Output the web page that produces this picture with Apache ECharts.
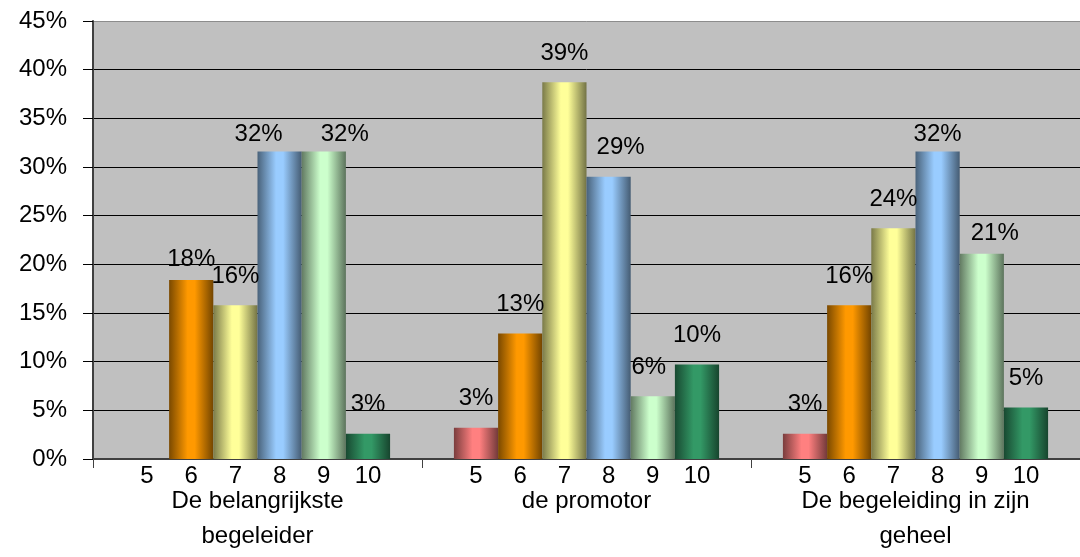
<!DOCTYPE html>
<html>
<head>
<meta charset="utf-8">
<script src="https://cdn.jsdelivr.net/npm/echarts@6/dist/echarts.min.js"></script>
<style>
html,body{margin:0;padding:0;background:#fff;}
#chart{width:1080px;height:557px;}
</style>
</head>
<body>
<div id="chart"></div>
<script>
// ---- data ----
var groups = ['De belangrijkste\nbegeleider', 'de promotor', 'De begeleiding in zijn\ngeheel'];
var scores = ['5', '6', '7', '8', '9', '10'];
var score5  = [0.0, 3.2, 2.6];
var score6  = [18.4, 12.9, 15.8];
var score7  = [15.8, 38.7, 23.7];
var score8  = [31.6, 29.0, 31.6];
var score9  = [31.6, 6.45, 21.1];
var score10 = [2.6, 9.7, 5.3];
var yTicks = [0, 5, 10, 15, 20, 25, 30, 35, 40, 45];

var seriesValues = [score5, score6, score7, score8, score9, score10];
var baseColors = ['#ff8080', '#ff9900', '#ffff99', '#99ccff', '#ccffcc', '#339966'];

// manual label nudges (as in the original chart), keyed "series-group"
var labelNudges = {
  '1-0': [0, 8],
  '3-0': [-21, 12],
  '4-0': [21, 12],
  '3-1': [12, 0],
  '4-1': [-4, 0],
  '3-2': [0, 12],
  '4-2': [13, 9]
};

function shade(hex, f) {
  var r = parseInt(hex.substr(1, 2), 16), g = parseInt(hex.substr(3, 2), 16), b = parseInt(hex.substr(5, 2), 16);
  return 'rgb(' + Math.round(r * f) + ',' + Math.round(g * f) + ',' + Math.round(b * f) + ')';
}
function grad(hex) {
  return new echarts.graphic.LinearGradient(0, 0, 1, 0, [
    { offset: 0, color: shade(hex, 0.48) },
    { offset: 0.42, color: hex },
    { offset: 0.58, color: hex },
    { offset: 1, color: shade(hex, 0.45) }
  ]);
}

var FONT = 'Liberation Sans';
var FS = 24;
var series = [];
var catGap = '19.4%';

seriesValues.forEach(function (vals, si) {
  series.push({
    type: 'bar',
    name: scores[si],
    xAxisIndex: 0,
    barGap: '0%',
    barCategoryGap: catGap,
    itemStyle: { color: grad(baseColors[si]) },
    label: {
      show: true,
      position: 'top',
      distance: 17,
      color: '#000',
      fontFamily: FONT,
      fontSize: FS,
      formatter: function (p) { return p.value > 0 ? Math.round(p.value) + '%' : ''; }
    },
    data: vals.map(function (v, gi) {
      var n = labelNudges[si + '-' + gi];
      var item = { value: v };
      if (n) item.label = { offset: n };
      return item;
    })
  });
});

// score labels under each bar (invisible carriers on a hidden twin axis)
seriesValues.forEach(function (vals, si) {
  series.push({
    type: 'bar',
    name: scores[si] + ' label',
    xAxisIndex: 1,
    barGap: '0%',
    barCategoryGap: catGap,
    silent: true,
    itemStyle: { color: 'rgba(0,0,0,0)' },
    label: {
      show: true,
      position: 'bottom',
      distance: 5,
      color: '#000',
      fontFamily: FONT,
      fontSize: FS,
      formatter: function () { return scores[si]; }
    },
    data: vals.slice()
  });
});

var chart = echarts.init(document.getElementById('chart'), null, { renderer: 'canvas' });
chart.setOption({
  animation: false,
  backgroundColor: '#ffffff',
  grid: { left: 93, right: -3, top: 21, bottom: 98, containLabel: false, show: true, backgroundColor: '#c0c0c0', borderWidth: 0 },
  xAxis: [
    {
      type: 'category',
      data: groups,
      position: 'bottom',
      axisLine: { show: true, lineStyle: { color: '#404040', width: 2 } },
      axisTick: { show: true, alignWithLabel: false, length: 9, lineStyle: { color: '#404040', width: 1 } },
      axisLabel: { show: true, interval: 0, margin: 25, color: '#000', fontFamily: FONT, fontSize: FS, lineHeight: 35 },
      splitLine: { show: false }
    },
    {
      type: 'category',
      data: groups,
      position: 'bottom',
      show: false
    }
  ],
  yAxis: {
    type: 'value',
    min: yTicks[0],
    max: yTicks[yTicks.length - 1],
    interval: 5,
    axisLine: { show: true, lineStyle: { color: '#404040', width: 2 } },
    axisTick: { show: true, length: 10, lineStyle: { color: '#000', width: 1 } },
    axisLabel: { margin: 26, color: '#000', fontFamily: FONT, fontSize: FS, formatter: '{value}%' },
    splitLine: { show: true, lineStyle: { color: ['#000', '#000', '#000', '#000', '#000', '#000', '#000', '#000', '#000', '#8c8c8c'], width: 1 } }
  },
  series: series
});
</script>
</body>
</html>
